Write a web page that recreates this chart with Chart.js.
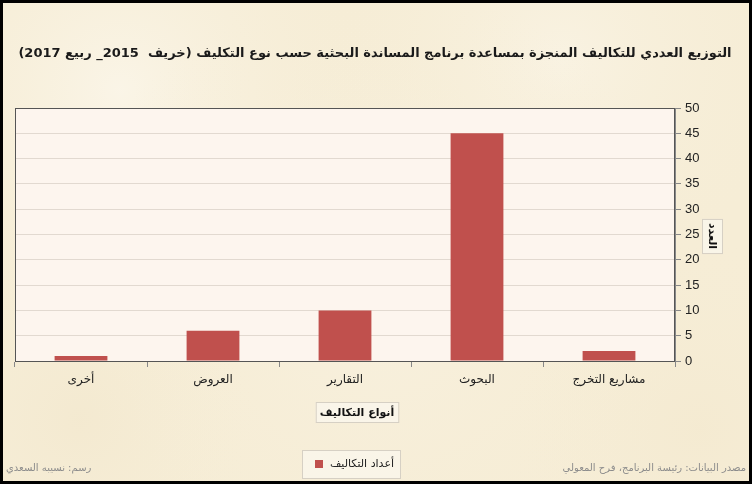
<!DOCTYPE html>
<html>
<head>
<meta charset="utf-8">
<script src="https://cdn.jsdelivr.net/npm/chart.js@4"></script>
<style>
  html, body { margin: 0; padding: 0; background: #000; }
  #wrap { width: 752px; height: 484px; }
</style>
</head>
<body>
<div id="wrap"><canvas id="chart" width="752" height="484"></canvas></div>
<script>
// data, in the order of the source sheet (drawn right to left)
const categories = ["مشاريع التخرج", "البحوث", "التقارير", "العروض", "أخرى"];
const counts = [2, 45, 10, 6, 1];
const yTicks = [0, 5, 10, 15, 20, 25, 30, 35, 40, 45, 50];

const chartTitle = "التوزيع العددي للتكاليف المنجزة بمساعدة برنامج المساندة البحثية حسب نوع التكليف (خريف  2015_ ربيع 2017)";
const seriesLabel = "أعداد التكاليف";
const xTitle = "أنواع التكاليف";
const yTitle = "العدد";
const sourceNote = "مصدر البيانات: رئيسة البرنامج، فرح المعولي";
const drawnBy = "رسم: نسيبه السعدي";

const arabicFont = "'DejaVu Sans', sans-serif";
const barColor = "#c0504d";

function boxedText(ctx, text, cx, cy, font, rotate) {
  ctx.save();
  ctx.font = font;
  const w = ctx.measureText(text).width;
  ctx.translate(cx, cy);
  if (rotate) ctx.rotate(Math.PI / 2);
  ctx.fillStyle = "rgba(250,245,234,0.9)";
  ctx.fillRect(-w / 2 - 4, -10, w + 8, 20);
  ctx.strokeStyle = "#d6d0c4";
  ctx.lineWidth = 1;
  ctx.strokeRect(-w / 2 - 4 + 0.5, -10 + 0.5, w + 8, 20);
  ctx.fillStyle = "#111";
  ctx.textAlign = "center";
  ctx.textBaseline = "middle";
  ctx.direction = "rtl";
  ctx.fillText(text, 0, 1);
  ctx.restore();
}

const decor = {
  id: "decor",
  beforeDraw(chart) {
    const ctx = chart.ctx;
    const W = chart.width, H = chart.height;
    ctx.save();
    // parchment background
    ctx.fillStyle = "#f6edd6";
    ctx.fillRect(0, 0, W, H);
    const spots = [[120, 90, 260, "rgba(252,248,238,0.7)"], [560, 60, 240, "rgba(251,246,234,0.6)"],
                   [380, 300, 320, "rgba(250,244,230,0.5)"], [80, 420, 180, "rgba(240,228,200,0.4)"],
                   [700, 430, 200, "rgba(242,230,202,0.4)"]];
    spots.forEach(([x, y, r, c]) => {
      const g = ctx.createRadialGradient(x, y, 0, x, y, r);
      g.addColorStop(0, c);
      g.addColorStop(1, "rgba(246,237,214,0)");
      ctx.fillStyle = g;
      ctx.fillRect(0, 0, W, H);
    });
    // plot area
    const a = chart.chartArea;
    ctx.fillStyle = "#fdf5ee";
    ctx.fillRect(a.left, a.top, a.right - a.left, a.bottom - a.top);
    ctx.restore();
  },
  afterDraw(chart) {
    const ctx = chart.ctx;
    const W = chart.width, H = chart.height;
    const a = chart.chartArea;
    ctx.save();
    ctx.strokeStyle = "#555";
    ctx.lineWidth = 1;
    ctx.strokeRect(a.left + 0.5, a.top + 0.5, a.right - a.left - 1, a.bottom - a.top);

    // title, fitted to the width
    let size = 18;
    ctx.direction = "rtl";
    ctx.font = "bold " + size + "px " + arabicFont;
    while (ctx.measureText(chartTitle).width > 718 && size > 10) {
      size -= 0.5;
      ctx.font = "bold " + size + "px " + arabicFont;
    }
    ctx.fillStyle = "#1a1a1a";
    ctx.textAlign = "center";
    ctx.textBaseline = "middle";
    ctx.fillText(chartTitle, 375, 54);
    ctx.restore();

    // axis titles
    boxedText(ctx, yTitle, 713, 236, "bold 11px " + arabicFont, true);
    boxedText(ctx, xTitle, 357, 412, "bold 11px " + arabicFont, false);

    // legend
    ctx.save();
    ctx.fillStyle = "rgba(250,245,234,0.9)";
    ctx.fillRect(302, 450, 98, 28);
    ctx.strokeStyle = "#d6d0c4";
    ctx.strokeRect(302.5, 450.5, 98, 28);
    ctx.fillStyle = chart.data.datasets[0].backgroundColor;
    ctx.fillRect(315, 460, 8, 8);
    ctx.font = "11px " + arabicFont;
    ctx.fillStyle = "#222";
    ctx.direction = "rtl";
    ctx.textAlign = "right";
    ctx.textBaseline = "middle";
    ctx.fillText(chart.data.datasets[0].label, 394, 464);

    // footers
    ctx.font = "10px " + arabicFont;
    ctx.fillStyle = "#8c8c8c";
    ctx.fillText(sourceNote, 746, 468);
    ctx.textAlign = "left";
    ctx.fillText(drawnBy, 6, 468);

    // outer frame
    ctx.strokeStyle = "#000";
    ctx.lineWidth = 3;
    ctx.strokeRect(1.5, 1.5, W - 3, H - 3);
    ctx.restore();
  }
};

new Chart(document.getElementById("chart"), {
  type: "bar",
  data: {
    labels: categories,
    datasets: [{
      label: seriesLabel,
      data: counts,
      backgroundColor: barColor,
      borderWidth: 0,
      barPercentage: 0.4,
      categoryPercentage: 1
    }]
  },
  options: {
    responsive: false,
    animation: false,
    layout: { padding: { top: 108, left: 15, right: 0, bottom: 0 } },
    plugins: { legend: { display: false }, title: { display: false }, tooltip: { enabled: false } },
    scales: {
      x: {
        reverse: true,
        afterFit(scale) { scale.height = 123; },
        grid: { offset: true, drawOnChartArea: false, tickLength: 6, color: "#888" },
        border: { color: "#555" },
        ticks: { color: "#222", font: { family: arabicFont, size: 12 }, padding: 6 }
      },
      y: {
        position: "right",
        min: 0,
        max: 50,
        afterFit(scale) { scale.width = 77; },
        afterBuildTicks(scale) { scale.ticks = yTicks.map(v => ({ value: v })); },
        grid: { color: "#e2d9d0", tickLength: 6, tickColor: "#888" },
        border: { color: "#888" },
        ticks: { color: "#222", font: { family: "'Liberation Sans', Arial, sans-serif", size: 13 }, padding: 4 }
      }
    }
  },
  plugins: [decor]
});
</script>
</body>
</html>
